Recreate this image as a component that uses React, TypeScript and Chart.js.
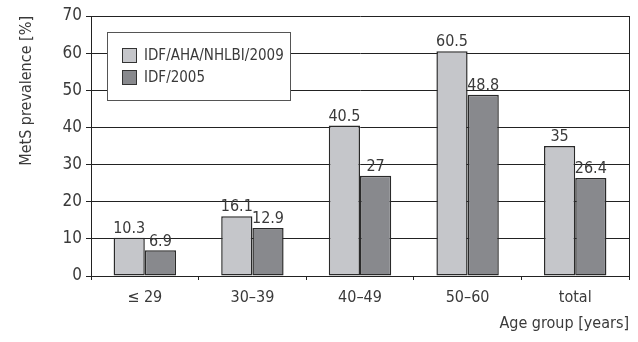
import React, { useEffect, useRef } from "react";
import { Chart, registerables } from "chart.js";

Chart.register(...registerables);

const categories = ["≤ 29", "30–39", "40–49", "50–60", "total"];
const series2009 = [10.3, 16.1, 40.5, 60.5, 35];
const series2005 = [6.9, 12.9, 27, 48.8, 26.4];
const seriesNames = ["IDF/AHA/NHLBI/2009", "IDF/2005"];
const labels2009 = ["10.3", "16.1", "40.5", "60.5", "35"];
const labels2005 = ["6.9", "12.9", "27", "48.8", "26.4"];

const FONT = "'Liberation Sans Narrow', 'DejaVu Sans Condensed', 'Arial Narrow', sans-serif";
const TEXT = "#3a3a3a";
const LIGHT = "#c5c6ca";
const DARK = "#88898d";

const extrasPlugin = {
  id: "extras",
  afterDatasetsDraw(chart: any) {
    const ctx = chart.ctx;
    const area = chart.chartArea;
    ctx.save();
    // right border
    ctx.strokeStyle = "#222";
    ctx.lineWidth = 1;
    ctx.beginPath();
    ctx.moveTo(Math.round(area.right) + 0.5, area.top);
    ctx.lineTo(Math.round(area.right) + 0.5, area.bottom);
    ctx.stroke();
    // value labels
    const lbls = [labels2009, labels2005];
    ctx.font = `16px ${FONT}`;
    ctx.fillStyle = TEXT;
    ctx.textAlign = "center";
    ctx.textBaseline = "bottom";
    chart.data.datasets.forEach((ds: any, di: number) => {
      const meta = chart.getDatasetMeta(di);
      meta.data.forEach((bar: any, i: number) => {
        ctx.fillText(lbls[di][i], bar.x, bar.y - 1);
      });
    });
    // legend
    const lx = 107, ly = 32, lw = 183, lh = 68;
    ctx.fillStyle = "#fff";
    ctx.fillRect(lx, ly, lw, lh);
    ctx.strokeStyle = "#555";
    ctx.strokeRect(lx + 0.5, ly + 0.5, lw, lh);
    ctx.font = `15px ${FONT}`;
    ctx.textAlign = "left";
    ctx.textBaseline = "middle";
    chart.data.datasets.forEach((ds: any, di: number) => {
      const y = 48 + di * 22;
      ctx.fillStyle = ds.backgroundColor;
      ctx.fillRect(122, y, 15, 15);
      ctx.strokeStyle = "#333";
      ctx.strokeRect(122.5, y + 0.5, 14, 14);
      ctx.fillStyle = TEXT;
      ctx.fillText(ds.label, 144, y + 8);
    });
    ctx.restore();
  },
};

export default function App() {
  const ref = useRef<HTMLCanvasElement>(null);
  useEffect(() => {
    document.body.style.margin = "0";
    const chart = new Chart(ref.current!, {
      type: "bar",
      data: {
        labels: categories,
        datasets: [
          {
            label: seriesNames[0],
            data: series2009,
            backgroundColor: LIGHT,
            borderColor: "#2a2a2a",
            borderWidth: 1.5,
            borderSkipped: false,
          },
          {
            label: seriesNames[1],
            data: series2005,
            backgroundColor: DARK,
            borderColor: "#2a2a2a",
            borderWidth: 1.5,
            borderSkipped: false,
          },
        ],
      },
      options: {
        responsive: false,
        animation: false,
        maintainAspectRatio: false,
        layout: { padding: { top: 16, right: 9, left: 0, bottom: 0 } },
        datasets: { bar: { barPercentage: 1, categoryPercentage: 0.58 } },
        plugins: {
          legend: { display: false },
          tooltip: { enabled: false },
        },
        scales: {
          x: {
            grid: {
              offset: true,
              drawOnChartArea: false,
              drawTicks: true,
              tickLength: 4,
              color: "#222",
            },
            border: { color: "#222", width: 1 },
            ticks: {
              color: TEXT,
              font: { family: FONT, size: 16 },
              padding: 8,
            },
            title: {
              display: true,
              text: "Age group [years]",
              align: "end",
              color: TEXT,
              font: { family: FONT, size: 16 },
              padding: { top: 0, bottom: 9 },
            },
            afterFit(scale: any) {
              scale.height = 66;
            },
          },
          y: {
            min: 0,
            max: 70,
            ticks: {
              stepSize: 10,
              color: TEXT,
              font: { family: FONT, size: 17 },
              padding: 4,
            },
            grid: { color: "#222", tickLength: 5 },
            border: { color: "#222", width: 1 },
            title: {
              display: true,
              text: "MetS prevalence [%]",
              align: "end",
              color: TEXT,
              font: { family: FONT, size: 16 },
              padding: { top: 17, bottom: 0 },
            },
            afterFit(scale: any) {
              scale.width = 91;
            },
          },
        },
      },
      plugins: [extrasPlugin],
    });
    return () => chart.destroy();
  }, []);
  return (
    <div style={{ position: "absolute", left: 0, top: 0, width: 638, height: 342 }}>
      <canvas ref={ref} width={638} height={342} style={{ width: 638, height: 342 }} />
    </div>
  );
}
